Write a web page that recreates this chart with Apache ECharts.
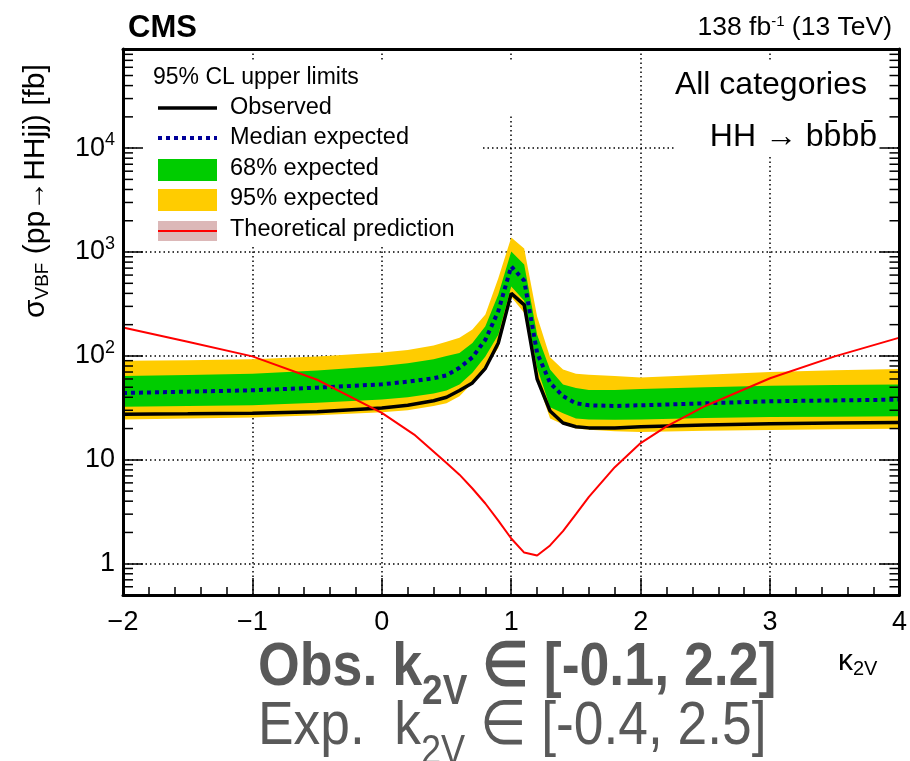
<!DOCTYPE html>
<html>
<head>
<meta charset="utf-8">
<script src="https://cdn.jsdelivr.net/npm/echarts@6/dist/echarts.min.js"></script>
<style>
  html, body { margin: 0; padding: 0; background: #fff; }
  #chart { width: 910px; height: 761px; }
</style>
</head>
<body>
<div id="chart"></div>
<script>
// kappa_2V scan points
const kappa = [-2, -1.5, -1, -0.5, 0, 0.2, 0.4, 0.5, 0.6, 0.7, 0.8, 0.9, 1.0, 1.1, 1.2, 1.3, 1.4, 1.5, 1.6, 1.8, 2.0, 2.5, 3.0, 3.5, 4.0];
const observed = [27.5, 27.7, 28, 29, 31.5, 33.5, 37, 40, 46.5, 55, 76, 133, 400, 310, 60, 29.5, 22.6, 20.8, 20.3, 20.3, 20.8, 21.6, 22.3, 22.6, 22.9];
const expMedian = [44, 45.3, 46.7, 49.5, 53.3, 56.5, 61, 65, 77, 97, 143, 270, 727, 530, 107, 55, 41, 35, 33.5, 33, 33.5, 35, 36.6, 37.3, 38];
const exp68Lo = [32.5, 33, 33.5, 35.5, 38, 40, 43.5, 46.5, 53, 69, 99, 160, 467, 340, 77, 32, 28, 25, 24.5, 24.3, 24.4, 25.3, 25.8, 26, 26.3];
const exp68Hi = [64, 65.5, 67.5, 72.5, 80, 85, 93, 100, 107, 133, 193, 390, 1010, 760, 160, 74, 53, 49, 47, 47, 48, 50, 51.5, 52.5, 53];
const exp95Lo = [24.5, 25, 25.5, 26.8, 28.7, 30, 33, 35, 41, 55, 77, 119, 370, 260, 58, 25, 22, 20, 19.5, 18.8, 18.5, 19, 19.4, 19.7, 19.9];
const exp95Hi = [90, 91, 93, 99, 108, 114, 126, 137, 150, 180, 250, 560, 1380, 1080, 240, 97, 74, 67.5, 66, 64, 62, 66, 70, 73, 75];

// theoretical prediction
const thKappa = [-2, -1.5, -1, -0.5, 0, 0.25, 0.5, 0.6, 0.7, 0.8, 0.9, 1.0, 1.1, 1.2, 1.3, 1.4, 1.5, 1.6, 1.8, 2.0, 2.2, 2.5, 3.0, 3.5, 4.0];
const theory = [188, 137, 99, 59, 28.3, 17.5, 9.3, 7.2, 5.3, 3.8, 2.6, 1.75, 1.28, 1.2, 1.5, 2.06, 3.0, 4.4, 8.5, 14.5, 21, 33, 61, 99, 150];

const xMin = -2, xMax = 4;
const yMin = 0.5, yMax = 90000;

const FONT = 'Liberation Sans, Arial, Helvetica, sans-serif';

const pairs = (xs, ys) => xs.map((x, i) => [x, ys[i]]);

// minor ticks of the log axis (2..9 per decade)
const logMinor = [];
for (let e = -1; e <= 4; e++) {
  for (let m = 2; m <= 9; m++) {
    const v = m * Math.pow(10, e);
    if (v > yMin && v < yMax) logMinor.push(v);
  }
}

// filled band between lo and hi, drawn once as one polygon
const bandSeries = (lo, hi, color, z) => ({
  type: 'custom', silent: true, z: z,
  data: kappa.map((x, i) => [x, lo[i], hi[i]]),
  encode: { x: 0, y: [1, 2] },
  renderItem: (params, api) => {
    if (params.dataIndex !== 0) return null;
    const pts = [];
    kappa.forEach((x, i) => pts.push(api.coord([x, hi[i]])));
    for (let i = kappa.length - 1; i >= 0; i--) pts.push(api.coord([kappa[i], lo[i]]));
    return { type: 'polygon', shape: { points: pts }, style: { fill: color } };
  }
});

const chart = echarts.init(document.getElementById('chart'));

const yLabel = v => {
  const l = Math.log10(v);
  const p = Math.round(l);
  if (Math.abs(l - p) > 1e-6) return '';
  if (p === 0) return '1';
  if (p === 1) return '10';
  return '{b|10}{s|' + p + '}';
};

const option = {
  backgroundColor: '#fff',
  animation: false,
  grid: { left: 123, top: 49, width: 778, height: 546, containLabel: false },
  xAxis: [
    {
      type: 'value', min: xMin, max: xMax, interval: 1, position: 'bottom', z: 10,
      axisLine: { show: true, onZero: false, lineStyle: { color: '#000', width: 3 } },
      axisTick: { show: true, inside: true, length: 17, lineStyle: { color: '#000', width: 1.5 } },
      minorTick: { show: true, splitNumber: 5, length: 8, lineStyle: { color: '#000', width: 1.5 } },
      axisLabel: {
        color: '#000', fontSize: 27, fontFamily: FONT, margin: 14,
        formatter: v => (v < 0 ? '\u2212' + Math.abs(v) : String(v))
      },
      splitLine: { show: false }
    },
    {
      type: 'value', min: xMin, max: xMax, interval: 1, position: 'top', z: 10,
      axisLine: { show: true, onZero: false, lineStyle: { color: '#000', width: 3 } },
      axisTick: { show: false }, axisLabel: { show: false }, splitLine: { show: false }
    },
    {
      type: 'value', min: xMin, max: xMax, interval: 1, position: 'bottom', z: 0,
      axisLine: { show: false }, axisTick: { show: false }, axisLabel: { show: false },
      splitLine: { show: true, lineStyle: { color: '#000', width: 1.5, type: [1.5, 3] } }
    }
  ],
  yAxis: [
    {
      type: 'log', logBase: 10, min: yMin, max: yMax, position: 'left', z: 10,
      axisLine: { show: true, onZero: false, lineStyle: { color: '#000', width: 3 } },
      axisTick: { show: true, inside: true, length: 20, lineStyle: { color: '#000', width: 1.5 } },
      axisLabel: {
        color: '#000', fontSize: 27, fontFamily: FONT, margin: 8, showMinLabel: false, showMaxLabel: false,
        formatter: yLabel,
        rich: {
          b: { fontSize: 27, fontFamily: FONT, color: '#000' },
          s: { fontSize: 18, fontFamily: FONT, color: '#000', padding: [0, 0, 16, 0] }
        }
      },
      splitLine: { show: false }
    },
    {
      type: 'log', logBase: 10, min: yMin, max: yMax, position: 'right', z: 10,
      axisLine: { show: true, onZero: false, lineStyle: { color: '#000', width: 3 } },
      axisTick: { show: true, inside: true, length: 20, lineStyle: { color: '#000', width: 1.5 } },
      axisLabel: { show: false }, splitLine: { show: false }
    },
    {
      type: 'log', logBase: 10, min: yMin, max: yMax, position: 'left', z: 0,
      axisLine: { show: false }, axisTick: { show: false }, axisLabel: { show: false },
      splitLine: { show: true, lineStyle: { color: '#000', width: 1.5, type: [1.5, 3] } }
    }
  ],
  series: [
    bandSeries(exp95Lo, exp95Hi, '#ffcc00', 2),
    bandSeries(exp68Lo, exp68Hi, '#00cc00', 3),
    {
      name: 'Median expected', type: 'line', data: pairs(kappa, expMedian), symbol: 'none', z: 4,
      lineStyle: { color: '#000099', width: 4, type: [4, 4] }
    },
    {
      name: 'Observed', type: 'line', data: pairs(kappa, observed), symbol: 'none', z: 5,
      lineStyle: { color: '#000', width: 3.5 }
    },
    {
      name: 'Theoretical prediction', type: 'line', data: pairs(thKappa, theory), symbol: 'none', z: 6,
      lineStyle: { color: '#ff0000', width: 2 }
    },
    {
      // log-axis minor ticks on both sides of the frame
      type: 'custom', silent: true, z: 11,
      data: logMinor.map(v => [xMin, v]),
      renderItem: (params, api) => {
        const v = api.value(1);
        const pl = api.coord([xMin, v]);
        const pr = api.coord([xMax, v]);
        const st = { stroke: '#000', lineWidth: 1.5 };
        return {
          type: 'group',
          children: [
            { type: 'line', shape: { x1: pl[0], y1: pl[1], x2: pl[0] + 10, y2: pl[1] }, style: st },
            { type: 'line', shape: { x1: pr[0] - 10, y1: pr[1], x2: pr[0], y2: pr[1] }, style: st }
          ]
        };
      }
    }
  ],
  graphic: [
    // white boxes behind legend and labels (hide grid lines)
    { type: 'rect', z: 1, shape: { x: 137, y: 62, width: 346, height: 183 }, style: { fill: '#fff' } },
    { type: 'rect', z: 1, shape: { x: 483, y: 62, width: 37, height: 54 }, style: { fill: '#fff' } },
    { type: 'rect', z: 1, shape: { x: 675, y: 62, width: 213, height: 95 }, style: { fill: '#fff' } },

    { type: 'text', z: 20, x: 128, y: 28, style: { text: 'CMS', font: 'bold 31px ' + FONT, fill: '#000', verticalAlign: 'middle' } },
    {
      type: 'text', z: 20, x: 892, y: 28,
      style: {
        text: '{a|138 fb}{s|-1}{a| (13 TeV)}', align: 'right', verticalAlign: 'middle',
        rich: {
          a: { fontSize: 26.5, fontFamily: FONT, fill: '#000' },
          s: { fontSize: 15, fontFamily: FONT, fill: '#000', padding: [0, 0, 13, 0] }
        }
      }
    },

    // legend
    { type: 'text', z: 20, x: 153, y: 78, style: { text: '95% CL upper limits', font: '23px ' + FONT, fill: '#000', verticalAlign: 'middle' } },
    { type: 'line', z: 20, shape: { x1: 158, y1: 108, x2: 217, y2: 108 }, style: { stroke: '#000', lineWidth: 3.5 } },
    { type: 'text', z: 20, x: 230, y: 108, style: { text: 'Observed', font: '23.5px ' + FONT, fill: '#000', verticalAlign: 'middle' } },
    { type: 'line', z: 20, shape: { x1: 158, y1: 138, x2: 217, y2: 138 }, style: { stroke: '#000099', lineWidth: 4, lineDash: [4, 4] } },
    { type: 'text', z: 20, x: 230, y: 138, style: { text: 'Median expected', font: '23.5px ' + FONT, fill: '#000', verticalAlign: 'middle' } },
    { type: 'rect', z: 20, shape: { x: 158, y: 159, width: 59, height: 22 }, style: { fill: '#00cc00' } },
    { type: 'text', z: 20, x: 230, y: 169, style: { text: '68% expected', font: '23.5px ' + FONT, fill: '#000', verticalAlign: 'middle' } },
    { type: 'rect', z: 20, shape: { x: 158, y: 189, width: 59, height: 22 }, style: { fill: '#ffcc00' } },
    { type: 'text', z: 20, x: 230, y: 199, style: { text: '95% expected', font: '23.5px ' + FONT, fill: '#000', verticalAlign: 'middle' } },
    { type: 'rect', z: 20, shape: { x: 158, y: 221, width: 59, height: 20 }, style: { fill: '#dcb8b8' } },
    { type: 'line', z: 20, shape: { x1: 158, y1: 231, x2: 217, y2: 231 }, style: { stroke: '#ff0000', lineWidth: 2 } },
    { type: 'text', z: 20, x: 230, y: 230, style: { text: 'Theoretical prediction', font: '23.5px ' + FONT, fill: '#000', verticalAlign: 'middle' } },

    // plot annotations
    { type: 'text', z: 20, x: 867, y: 85, style: { text: 'All categories', font: '32px ' + FONT, fill: '#000', align: 'right', verticalAlign: 'middle' } },
    { type: 'text', z: 20, x: 877, y: 137, style: { text: 'HH \u2192 bb\u0304bb\u0304', font: '32px ' + FONT, fill: '#000', align: 'right', verticalAlign: 'middle' } },

    // axis titles
    {
      type: 'text', z: 20, x: 36, y: 318, rotation: Math.PI / 2,
      style: {
        text: '{a|\u03c3}{s|VBF}{a| (pp\u2192HHjj) [fb]}', align: 'left', verticalAlign: 'middle',
        rich: {
          a: { fontSize: 30, fontFamily: FONT, fill: '#000' },
          s: { fontSize: 19, fontFamily: FONT, fill: '#000', padding: [14, 0, 0, 0] }
        }
      }
    },
    {
      type: 'text', z: 20, x: 838, y: 662,
      style: {
        text: '{a|\u03ba}{s|2V}', align: 'left', verticalAlign: 'middle',
        rich: {
          a: { fontSize: 30, fontFamily: FONT, fill: '#000' },
          s: { fontSize: 20, fontFamily: FONT, fill: '#000', padding: [14, 0, 0, 0] }
        }
      }
    },

    // summary of allowed ranges (narrow face emulated by horizontal scaling)
    {
      type: 'text', z: 20, x: 258, y: 668, scaleX: 0.88,
      style: {
        text: '{a|Obs. k}{s|2V}{a| \u2208 [-0.1, 2.2]}', align: 'left', verticalAlign: 'middle',
        rich: {
          a: { fontSize: 61, fontWeight: 'bold', fontFamily: FONT, fill: '#595959' },
          s: { fontSize: 42, fontWeight: 'bold', fontFamily: FONT, fill: '#595959', padding: [48, 0, 0, 0] }
        }
      }
    },
    {
      type: 'text', z: 20, x: 258, y: 727, scaleX: 0.86,
      style: {
        text: '{a|Exp.  k}{s|2V}{a| \u2208 [-0.4, 2.5]}', align: 'left', verticalAlign: 'middle',
        rich: {
          a: { fontSize: 62, fontFamily: FONT, fill: '#595959' },
          s: { fontSize: 42, fontFamily: FONT, fill: '#595959', padding: [50, 0, 0, 0] }
        }
      }
    }
  ]
};

chart.setOption(option);
</script>
</body>
</html>
